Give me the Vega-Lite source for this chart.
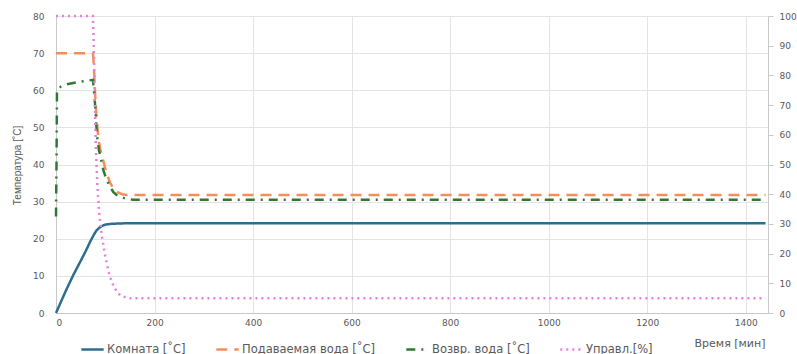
{
  "$schema": "https://vega.github.io/schema/vega-lite/v6.json",
  "width": 712,
  "height": 297,
  "autosize": {"type": "none"},
  "padding": {"left": 56, "top": 16, "right": 29, "bottom": 41},
  "background": "white",
  "config": {
    "view": {"stroke": null},
    "font": "DejaVu Sans",
    "axis": {"labelColor": "#595959", "titleColor": "#595959", "gridColor": "#e3e3e3", "domainColor": "#c8c8c8", "tickColor": "#c8c8c8", "labelFont": "DejaVu Sans", "labelFontSize": 9}
  },
  "datasets": {
    "temp": [
      {"t": 0, "s": "Комната [˚C]", "v": 0},
      {"t": 10, "s": "Комната [˚C]", "v": 3},
      {"t": 20, "s": "Комната [˚C]", "v": 6},
      {"t": 35, "s": "Комната [˚C]", "v": 10.2},
      {"t": 50, "s": "Комната [˚C]", "v": 14},
      {"t": 60, "s": "Комната [˚C]", "v": 16.6},
      {"t": 69, "s": "Комната [˚C]", "v": 19.1},
      {"t": 76, "s": "Комната [˚C]", "v": 20.9},
      {"t": 82, "s": "Комната [˚C]", "v": 22.2},
      {"t": 88, "s": "Комната [˚C]", "v": 23},
      {"t": 94, "s": "Комната [˚C]", "v": 23.5},
      {"t": 100, "s": "Комната [˚C]", "v": 23.8},
      {"t": 110, "s": "Комната [˚C]", "v": 24},
      {"t": 125, "s": "Комната [˚C]", "v": 24.1},
      {"t": 150, "s": "Комната [˚C]", "v": 24.2},
      {"t": 1440, "s": "Комната [˚C]", "v": 24.2},
      {"t": 0, "s": "Подаваемая вода [˚C]", "v": 70},
      {"t": 75, "s": "Подаваемая вода [˚C]", "v": 70},
      {"t": 77, "s": "Подаваемая вода [˚C]", "v": 66},
      {"t": 79, "s": "Подаваемая вода [˚C]", "v": 60},
      {"t": 82, "s": "Подаваемая вода [˚C]", "v": 53},
      {"t": 86, "s": "Подаваемая вода [˚C]", "v": 47},
      {"t": 90, "s": "Подаваемая вода [˚C]", "v": 44},
      {"t": 96, "s": "Подаваемая вода [˚C]", "v": 41},
      {"t": 103, "s": "Подаваемая вода [˚C]", "v": 37.5},
      {"t": 110, "s": "Подаваемая вода [˚C]", "v": 35},
      {"t": 117, "s": "Подаваемая вода [˚C]", "v": 33.5},
      {"t": 124, "s": "Подаваемая вода [˚C]", "v": 32.6},
      {"t": 134, "s": "Подаваемая вода [˚C]", "v": 32},
      {"t": 145, "s": "Подаваемая вода [˚C]", "v": 31.8},
      {"t": 1440, "s": "Подаваемая вода [˚C]", "v": 31.8},
      {"t": 0, "s": "Возвр. вода [˚C]", "v": 26},
      {"t": 1, "s": "Возвр. вода [˚C]", "v": 40},
      {"t": 2, "s": "Возвр. вода [˚C]", "v": 60},
      {"t": 10, "s": "Возвр. вода [˚C]", "v": 61},
      {"t": 25, "s": "Возвр. вода [˚C]", "v": 61.7},
      {"t": 50, "s": "Возвр. вода [˚C]", "v": 62.3},
      {"t": 75, "s": "Возвр. вода [˚C]", "v": 62.8},
      {"t": 77, "s": "Возвр. вода [˚C]", "v": 60},
      {"t": 80, "s": "Возвр. вода [˚C]", "v": 55},
      {"t": 83, "s": "Возвр. вода [˚C]", "v": 48},
      {"t": 87, "s": "Возвр. вода [˚C]", "v": 44},
      {"t": 92, "s": "Возвр. вода [˚C]", "v": 41},
      {"t": 96, "s": "Возвр. вода [˚C]", "v": 38.5},
      {"t": 103, "s": "Возвр. вода [˚C]", "v": 35.8},
      {"t": 110, "s": "Возвр. вода [˚C]", "v": 34},
      {"t": 116, "s": "Возвр. вода [˚C]", "v": 32.6},
      {"t": 123, "s": "Возвр. вода [˚C]", "v": 31.8},
      {"t": 137, "s": "Возвр. вода [˚C]", "v": 31},
      {"t": 156, "s": "Возвр. вода [˚C]", "v": 30.5},
      {"t": 1440, "s": "Возвр. вода [˚C]", "v": 30.5}
    ],
    "ctrl": [
      {"t": 0, "s": "Управл.[%]", "v": 100},
      {"t": 75, "s": "Управл.[%]", "v": 100},
      {"t": 77, "s": "Управл.[%]", "v": 88},
      {"t": 79, "s": "Управл.[%]", "v": 70},
      {"t": 81, "s": "Управл.[%]", "v": 55},
      {"t": 84, "s": "Управл.[%]", "v": 43},
      {"t": 88, "s": "Управл.[%]", "v": 33},
      {"t": 93, "s": "Управл.[%]", "v": 26},
      {"t": 100, "s": "Управл.[%]", "v": 19},
      {"t": 108, "s": "Управл.[%]", "v": 13},
      {"t": 118, "s": "Управл.[%]", "v": 8.5},
      {"t": 130, "s": "Управл.[%]", "v": 6},
      {"t": 145, "s": "Управл.[%]", "v": 5},
      {"t": 1440, "s": "Управл.[%]", "v": 5}
    ]
  },
  "encoding": {
    "x": {
      "field": "t", "type": "quantitative",
      "scale": {"domain": [0, 1445], "nice": false, "zero": true},
      "axis": {
        "values": [0, 200, 400, 600, 800, 1000, 1200, 1400], "format": "d",
        "ticks": false, "labelPadding": 5, "grid": true,
        "title": "Время [мин]", "titleFont": "DejaVu Sans", "titleFontSize": 11, "titleFontWeight": "normal",
        "titleAnchor": "end", "titleAlign": "right", "titleBaseline": "middle", "titleX": 709, "titleY": 30
      }
    },
    "color": {
      "field": "s", "type": "nominal",
      "scale": {
        "domain": ["Комната [˚C]", "Подаваемая вода [˚C]", "Возвр. вода [˚C]", "Управл.[%]"],
        "range": ["#2e6d8e", "#f28e5a", "#2e7a35", "#e67fe0"]
      },
      "legend": {
        "title": null, "orient": "none", "direction": "horizontal",
        "legendX": 24, "legendY": 321,
        "symbolType": "stroke", "symbolStrokeWidth": 2.5, "symbolSize": 500,
        "labelFont": "DejaVu Sans", "labelFontSize": 11.5, "labelColor": "#595959",
        "labelOffset": 2, "columnPadding": 25
      }
    },
    "strokeDash": {
      "field": "s", "type": "nominal",
      "scale": {
        "domain": ["Комната [˚C]", "Подаваемая вода [˚C]", "Возвр. вода [˚C]", "Управл.[%]"],
        "range": [[1, 0], [11, 7], [9, 6, 2, 6], [2, 4]]
      },
      "legend": {
        "title": null, "orient": "none", "direction": "horizontal",
        "legendX": 24, "legendY": 321,
        "symbolType": "stroke", "symbolStrokeWidth": 2.5, "symbolSize": 500,
        "labelFont": "DejaVu Sans", "labelFontSize": 11.5, "labelColor": "#595959",
        "labelOffset": 2, "columnPadding": 25
      }
    }
  },
  "layer": [
    {
      "data": {"name": "temp"},
      "mark": {"type": "line", "strokeWidth": 2.5, "interpolate": "linear"},
      "encoding": {
        "y": {
          "field": "v", "type": "quantitative",
          "scale": {"domain": [0, 80], "nice": false},
          "axis": {
            "values": [0, 10, 20, 30, 40, 50, 60, 70, 80],
            "ticks": false, "labelPadding": 12, "grid": true,
            "title": "Температура [˚C]", "titleFont": "Liberation Sans", "titleFontSize": 10, "titleFontWeight": "normal",
            "titleAngle": 270, "titleAlign": "center", "titleBaseline": "middle", "titleX": -39, "titleY": 149
          }
        }
      }
    },
    {
      "data": {"name": "ctrl"},
      "mark": {"type": "line", "strokeWidth": 2.5, "interpolate": "linear"},
      "encoding": {
        "y": {
          "field": "v", "type": "quantitative",
          "scale": {"domain": [0, 100], "nice": false},
          "axis": {
            "orient": "right",
            "values": [0, 10, 20, 30, 40, 50, 60, 70, 80, 90, 100],
            "ticks": true, "tickSize": 5, "labelPadding": 6, "grid": false,
            "title": null
          }
        }
      }
    }
  ],
  "resolve": {"scale": {"y": "independent"}}
}
